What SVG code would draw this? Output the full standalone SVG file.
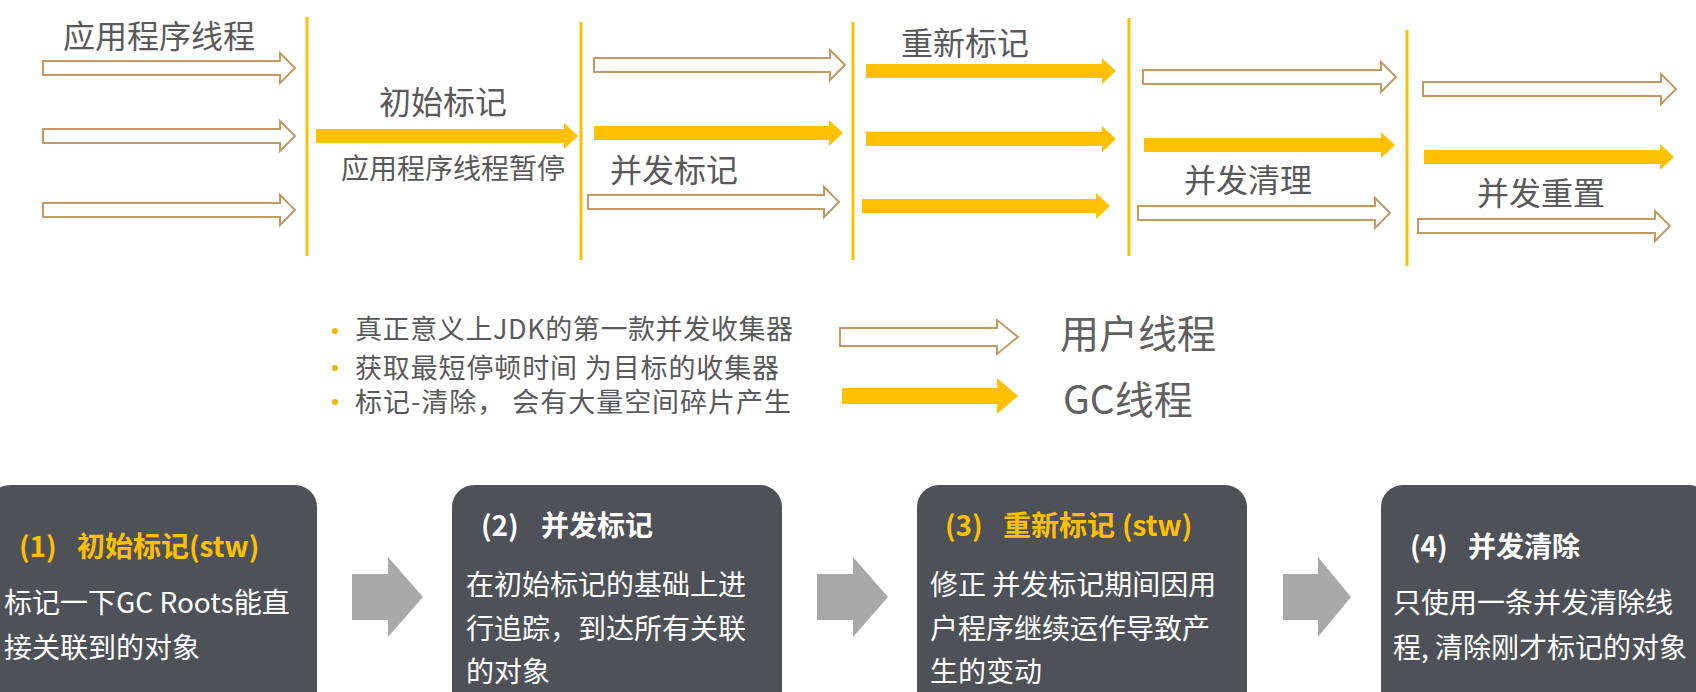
<svg xmlns="http://www.w3.org/2000/svg" width="1696" height="692" viewBox="0 0 1696 692">
<defs>
<style>
.t{font-family:"Noto Sans CJK SC","Microsoft YaHei",sans-serif;fill:#595959}
.lab{font-size:32px}
.leg{font-size:27px}
.big{font-size:39px;fill:#606060}
.hol{fill:#ffffff;stroke:#C49A62;stroke-width:2}
.gc{fill:#FFC000}
.vl{stroke:#FFC000;stroke-width:3}
.box{fill:#4E5258}
.chev{fill:#A9A9A9}
.bt{font-family:"Noto Sans CJK SC","Microsoft YaHei",sans-serif;font-size:28px;fill:#ffffff}
.tt{font-weight:bold}
.gold{fill:#FFC000}
.dot{fill:#F5B400}
</style>
</defs>
<rect width="1696" height="692" fill="#ffffff"/>

<g id="phase-lines">
<line class="vl" x1="307" y1="17" x2="307" y2="256"/>
<line class="vl" x1="581" y1="22" x2="581" y2="260"/>
<line class="vl" x1="853" y1="22" x2="853" y2="260"/>
<line class="vl" x1="1129" y1="18" x2="1129" y2="256"/>
<line class="vl" x1="1407" y1="30" x2="1407" y2="266"/>
</g>

<g id="labels">
<text class="t lab" x="63" y="48">应用程序线程</text>
<text class="t lab" x="379" y="114">初始标记</text>
<text class="t" x="341" y="179" font-size="28">应用程序线程暂停</text>
<text class="t lab" x="610" y="182">并发标记</text>
<text class="t lab" x="901" y="55">重新标记</text>
<text class="t lab" x="1184" y="192">并发清理</text>
<text class="t lab" x="1477" y="205">并发重置</text>
</g>

<g id="connectors">
<path class="hol" d="M43 61 H280 V53 L295 68 L280 83 V75 H43 Z"/>
<path class="hol" d="M43 129 H280 V121 L295 136 L280 151 V143 H43 Z"/>
<path class="hol" d="M43 203 H280 V195 L295 210 L280 225 V217 H43 Z"/>
<path class="gc" d="M316 129 H564 V123 L578 136 L564 149 V143 H316 Z"/>
<path class="hol" d="M594 58 H830 V50 L845 65 L830 80 V72 H594 Z"/>
<path class="gc" d="M594 126 H829 V120 L843 133 L829 146 V140 H594 Z"/>
<path class="hol" d="M588 195 H824 V187 L839 202 L824 217 V209 H588 Z"/>
<path class="gc" d="M866 64 H1102 V58 L1116 71 L1102 84 V78 H866 Z"/>
<path class="gc" d="M866 132 H1102 V126 L1116 139 L1102 152 V146 H866 Z"/>
<path class="gc" d="M862 199 H1096 V193 L1110 206 L1096 219 V213 H862 Z"/>
<path class="hol" d="M1143 70 H1381 V62 L1396 77 L1381 92 V84 H1143 Z"/>
<path class="gc" d="M1144 138 H1381 V132 L1395 145 L1381 158 V152 H1144 Z"/>
<path class="hol" d="M1138 206 H1375 V198 L1390 213 L1375 228 V220 H1138 Z"/>
<path class="hol" d="M1423 82 H1661 V74 L1676 89 L1661 104 V96 H1423 Z"/>
<path class="gc" d="M1424 150 H1660 V144 L1674 157 L1660 170 V164 H1424 Z"/>
<path class="hol" d="M1418 219 H1655 V211 L1670 226 L1655 241 V233 H1418 Z"/>
<path class="chev" d="M352 574 H388 V557 L423 597 L388 637 V620 H352 Z"/>
<path class="chev" d="M817 574 H853 V557 L888 597 L853 637 V620 H817 Z"/>
<path class="chev" d="M1283 574 H1318 V557 L1351 597 L1318 637 V620 H1283 Z"/>
</g>

<g id="legend">
<circle class="dot" cx="335" cy="331" r="3"/>
<circle class="dot" cx="335" cy="368" r="3"/>
<circle class="dot" cx="335" cy="402" r="3"/>
<text class="t leg" x="355" y="339" textLength="438" lengthAdjust="spacing">真正意义上JDK的第一款并发收集器</text>
<text class="t leg" x="355" y="378" textLength="424" lengthAdjust="spacing">获取最短停顿时间 为目标的收集器</text>
<text class="t leg" x="355" y="412" textLength="436" lengthAdjust="spacing">标记-清除， 会有大量空间碎片产生</text>
<path class="hol" d="M840 328 H997 V320 L1018 337 L997 354 V346 H840 Z"/>
<path class="gc" d="M842 388 H997 V378 L1018 396 L997 414 V404 H842 Z"/>
<text class="t big" x="1060" y="348">用户线程</text>
<text class="t big" x="1063" y="414">GC线程</text>
</g>

<g id="step1">
<rect class="box" x="-12" y="485" width="329" height="240" rx="22"/>
<text class="bt tt gold" font-size="29" y="557"><tspan x="19">(1)</tspan><tspan x="77">初始标记(stw)</tspan></text>
<text class="bt" x="4" y="613">标记一下GC Roots能直</text>
<text class="bt" x="4" y="658">接关联到的对象</text>
</g>

<g id="step2">
<rect class="box" x="452" y="485" width="330" height="240" rx="22"/>
<text class="bt tt" y="536"><tspan x="481">(2)</tspan><tspan x="541">并发标记</tspan></text>
<text class="bt" x="466" y="595">在初始标记的基础上进</text>
<text class="bt" x="466" y="639">行追踪，到达所有关联</text>
<text class="bt" x="466" y="682">的对象</text>
</g>

<g id="step3">
<rect class="box" x="917" y="485" width="330" height="240" rx="22"/>
<text class="bt tt gold" y="536"><tspan x="945">(3)</tspan><tspan x="1003">重新标记</tspan><tspan x="1122">(stw)</tspan></text>
<text class="bt" x="930" y="595">修正 并发标记期间因用</text>
<text class="bt" x="930" y="639">户程序继续运作导致产</text>
<text class="bt" x="930" y="682">生的变动</text>
</g>

<g id="step4">
<rect class="box" x="1381" y="485" width="330" height="240" rx="22"/>
<text class="bt tt" y="557"><tspan x="1410">(4)</tspan><tspan x="1468">并发清除</tspan></text>
<text class="bt" x="1393" y="613">只使用一条并发清除线</text>
<text class="bt" x="1393" y="658">程, 清除刚才标记的对象</text>
</g>
</svg>
